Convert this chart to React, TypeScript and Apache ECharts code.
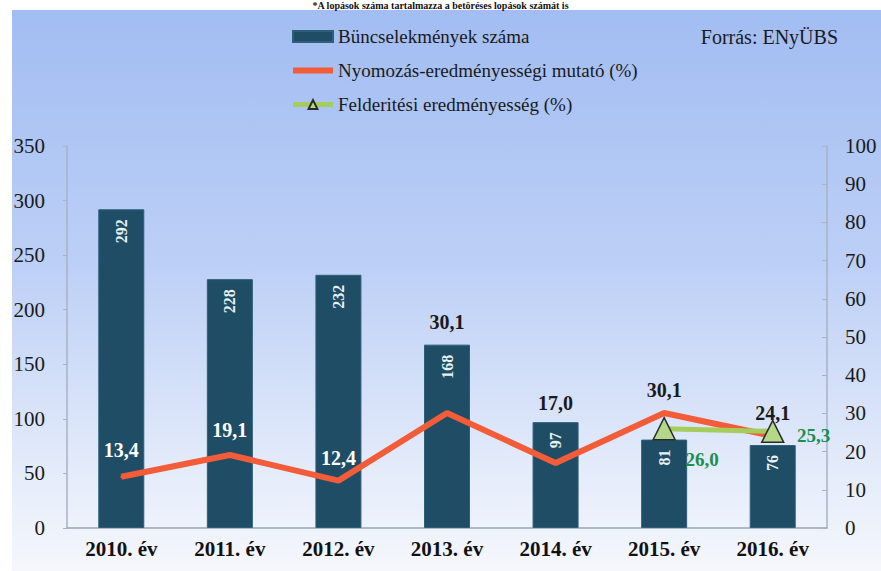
import React, { useEffect, useRef } from "react";
import * as echarts from "echarts";

// ---- data ----
const categories = ["2010. év", "2011. év", "2012. év", "2013. év", "2014. év", "2015. év", "2016. év"];
const crimeCounts = [292, 228, 232, 168, 97, 81, 76];
const investigationRate = [13.4, 19.1, 12.4, 30.1, 17.0, 30.1, 24.1];
const detectionRate: (number | null)[] = [null, null, null, null, null, 26.0, 25.3];
const leftAxis = { min: 0, max: 350, interval: 50 };
const rightAxis = { min: 0, max: 100, interval: 10 };
const seriesNames = [
  "Büncselekmények száma",
  "Nyomozás-eredményességi mutató (%)",
  "Felderitési eredményesség (%)",
];
const sourceText = "Forrás: ENyÜBS";
const topNote = "*A lopások száma tartalmazza a betöréses lopások számát is";

// ---- layout / style (not data) ----
const rateLabelOffsets: [number, number][] = [
  [0, -27], [0, -25], [0, -23], [0, -91], [0, -60], [0, -23], [0, -23],
];
const rateLabelColors = ["#ffffff", "#ffffff", "#ffffff", "#1a1a1a", "#1a1a1a", "#1a1a1a", "#1a1a1a"];
const detectionLabelOffsets: [number, number][] = [
  [0, 0], [0, 0], [0, 0], [0, 0], [0, 0], [38, 31], [41, 4],
];
const SERIF = "Liberation Serif";
const fmt = (v: number) => v.toFixed(1).replace(".", ",");

export default function App() {
  const ref = useRef<HTMLDivElement>(null);
  useEffect(() => {
    if (!ref.current) return;
    const chart = echarts.init(ref.current, null, { renderer: "svg" });
    const option: any = {
      animation: false,
      backgroundColor: "#ffffff",
      graphic: [
        {
          type: "rect",
          left: 12,
          top: 10,
          z: -10,
          silent: true,
          shape: { width: 869, height: 561 },
          style: {
            fill: new echarts.graphic.LinearGradient(0, 0, 0, 1, [
              { offset: 0, color: "#a2bdf2" },
              { offset: 0.45, color: "#bccff6" },
              { offset: 0.8, color: "#e2eafa" },
              { offset: 1, color: "#f5f7fc" },
            ]),
          },
        },
      ],
      title: [
        {
          text: topNote,
          left: "center",
          top: 0,
          padding: 0,
          textStyle: { fontFamily: SERIF, fontSize: 10, fontWeight: "bold", color: "#111" },
        },
        {
          text: sourceText,
          right: 38,
          top: 22,
          textStyle: { fontFamily: SERIF, fontSize: 20, fontWeight: "normal", color: "#1a1a1a" },
        },
      ],
      legend: {
        orient: "vertical",
        left: 285,
        top: 22,
        itemWidth: 40,
        itemHeight: 11,
        itemGap: 15,
        textStyle: { fontFamily: SERIF, fontSize: 19, color: "#1a1a1a" },
        data: [
          { name: seriesNames[0], icon: "rect" },
          { name: seriesNames[1], itemStyle: { opacity: 0 }, lineStyle: { width: 6 } },
          { name: seriesNames[2], lineStyle: { width: 5 } },
        ],
      },
      grid: { left: 67, right: 54, top: 146, bottom: 43 },
      xAxis: {
        type: "category",
        data: categories,
        axisLine: { show: true, lineStyle: { color: "#9aa4b4", width: 1.5 } },
        axisTick: { show: false },
        axisLabel: {
          margin: 10,
          fontFamily: SERIF,
          fontSize: 21,
          fontWeight: "bold",
          color: "#111",
        },
      },
      yAxis: [
        {
          type: "value",
          ...leftAxis,
          position: "left",
          axisLine: { show: true, lineStyle: { color: "#a8b2c4", width: 1.5 } },
          axisTick: { show: true, length: 4, lineStyle: { color: "#a8b2c4" } },
          splitLine: { show: false },
          axisLabel: { margin: 22, fontFamily: SERIF, fontSize: 21, color: "#1a1a1a" },
        },
        {
          type: "value",
          ...rightAxis,
          position: "right",
          axisLine: { show: true, lineStyle: { color: "#a8b2c4", width: 1.5 } },
          axisTick: { show: true, inside: true, length: 5, lineStyle: { color: "#a8b2c4" } },
          splitLine: { show: false },
          axisLabel: { margin: 18, fontFamily: SERIF, fontSize: 21, color: "#1a1a1a" },
        },
      ],
      series: [
        {
          name: seriesNames[0],
          type: "bar",
          yAxisIndex: 0,
          barWidth: 46,
          data: crimeCounts,
          itemStyle: { color: "#1f4d66", borderColor: "#2d5f78", borderWidth: 1 },
          label: {
            show: true,
            position: "insideTop",
            distance: 10,
            rotate: 90,
            align: "right",
            verticalAlign: "middle",
            fontFamily: SERIF,
            fontSize: 16,
            fontWeight: "bold",
            color: "#e8f2f2",
          },
          z: 1,
        },
        {
          name: seriesNames[1],
          type: "line",
          yAxisIndex: 1,
          symbol: "circle",
          symbolSize: 2,
          showSymbol: true,
          lineStyle: { color: "#f25c38", width: 6 },
          itemStyle: { color: "#f25c38" },
          data: investigationRate.map((v, i) => ({
            value: v,
            label: {
              show: true,
              position: "inside",
              offset: rateLabelOffsets[i],
              color: rateLabelColors[i],
              formatter: () => fmt(v),
            },
          })),
          label: {
            fontFamily: SERIF,
            fontSize: 20,
            fontWeight: "bold",
          },
          z: 3,
        },
        {
          name: seriesNames[2],
          type: "line",
          yAxisIndex: 1,
          symbol: "triangle",
          symbolSize: [22, 22],
          lineStyle: { color: "#a6cc5c", width: 5 },
          itemStyle: { color: "#b3d88a", borderColor: "#2a2a2a", borderWidth: 1.5 },
          data: detectionRate.map((v, i) =>
            v == null
              ? null
              : {
                  value: v,
                  label: {
                    show: true,
                    position: "inside",
                    offset: detectionLabelOffsets[i],
                    formatter: () => fmt(v),
                  },
                }
          ),
          label: {
            fontFamily: SERIF,
            fontSize: 19,
            fontWeight: "bold",
            color: "#1a8f4e",
          },
          z: 4,
        },
      ],
    };
    chart.setOption(option);
    return () => chart.dispose();
  }, []);
  return (
    <div
      ref={ref}
      style={{ position: "fixed", left: 0, top: 0, width: 881, height: 571 }}
    />
  );
}
